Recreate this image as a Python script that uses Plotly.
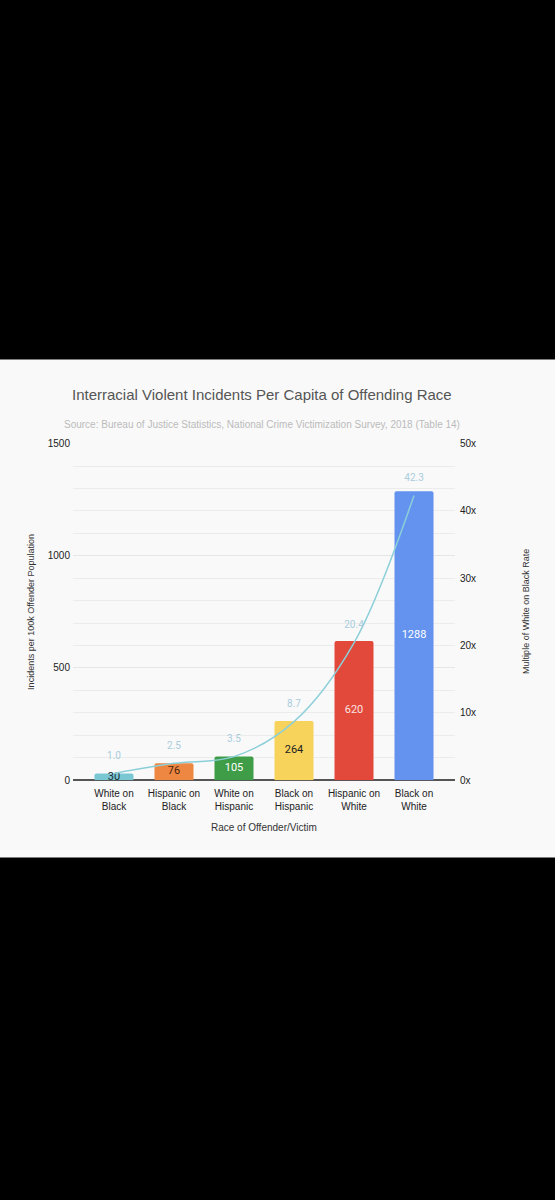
import plotly.graph_objects as go

# Data
categories = ["White on<br>Black", "Hispanic on<br>Black", "White on<br>Hispanic",
              "Black on<br>Hispanic", "Hispanic on<br>White", "Black on<br>White"]
incidents = [30, 76, 105, 264, 620, 1288]
multiples = [1.0, 2.5, 3.5, 8.7, 20.4, 42.3]
multiple_labels = ["1.0", "2.5", "3.5", "8.7", "20.4", "42.3"]
right_ticks = [0, 10, 20, 30, 40, 50]
right_tick_text = ["0x", "10x", "20x", "30x", "40x", "50x"]

bar_colors = ["#79c7d3", "#ee8741", "#3f9d48", "#f7d35c", "#e2493b", "#6393ee"]
bar_text_colors = ["#1d2a33", "#4a2410", "#ffffff", "#222222", "#fbe3e0", "#ffffff"]

W, H = 555, 1200
FONT = "Liberation Sans, Arial, sans-serif"


def px(x):
    return x / W


def py(y):
    return 1 - y / H


def note(text, x, y, size, color, angle=0):
    return dict(text=text, x=px(x), y=py(y), xref="paper", yref="paper",
                xanchor="center", yanchor="middle", showarrow=False,
                textangle=angle, font=dict(size=size, color=color))


bars = go.Bar(
    x=categories,
    y=incidents,
    width=0.65,
    marker=dict(color=bar_colors, line=dict(width=0), cornerradius=2),
    hoverinfo="skip",
    showlegend=False,
)

# bar value labels centred inside each bar
bar_labels = go.Scatter(
    x=categories,
    y=[v / 2 for v in incidents],
    mode="text",
    text=[str(v) for v in incidents],
    textfont=dict(family="Roboto, Arial", size=11, color=bar_text_colors),
    hoverinfo="skip",
    showlegend=False,
)

trend = go.Scatter(
    x=categories,
    y=multiples,
    yaxis="y2",
    mode="lines+markers+text",
    line=dict(color="#8ccfd9", width=1.5, shape="spline", smoothing=1.0),
    marker=dict(size=18, color="rgba(0,0,0,0)"),
    text=multiple_labels,
    textposition="top center",
    textfont=dict(family="Roboto, Arial", size=10, color="#a9cddd"),
    hoverinfo="skip",
    showlegend=False,
)

fig = go.Figure(data=[bars, bar_labels, trend])

fig.update_layout(
    width=W,
    height=H,
    margin=dict(l=0, r=0, t=0, b=0),
    paper_bgcolor="#000000",
    plot_bgcolor="#f9f9f9",
    font=dict(family=FONT, color="#333333"),
    xaxis=dict(
        domain=[px(73), px(455)],
        anchor="y",
        range=[-0.683, 5.683],
        showgrid=False,
        tickfont=dict(size=10, color="#222222"),
        ticks="",
        ticklabelstandoff=6,
    ),
    yaxis=dict(
        domain=[py(782), py(442)],
        range=[0, 1500],
        tickvals=[0, 500, 1000, 1500],
        showgrid=True,
        gridcolor="#e6e6e6",
        gridwidth=1,
        minor=dict(dtick=100, showgrid=True, gridcolor="#ececec"),
        zeroline=True,
        zerolinecolor="#555555",
        zerolinewidth=1.5,
        tickfont=dict(size=10, color="#222222"),
        ticklabelstandoff=2,
    ),
    yaxis2=dict(
        overlaying="y",
        side="right",
        anchor="x",
        range=[0, 50],
        tickvals=right_ticks,
        ticktext=right_tick_text,
        showgrid=False,
        zeroline=False,
        tickfont=dict(size=10, color="#222222"),
        ticklabelstandoff=4,
    ),
    shapes=[
        dict(type="rect", xref="paper", yref="paper",
             x0=0, x1=1, y0=py(860), y1=py(357),
             fillcolor="#f9f9f9", line=dict(width=0), layer="below"),
    ],
    annotations=[
        note("Interracial Violent Incidents Per Capita of Offending Race", 262, 392, 15, "#555555"),
        note("Source: Bureau of Justice Statistics, National Crime Victimization Survey, 2018 (Table 14)",
             262, 423, 10, "#bbbbbb"),
        note("Incidents per 100k Offender Population", 31, 612, 9, "#333333", -90),
        note("Multiple of White on Black Rate", 526, 612, 9, "#333333", -90),
        note("Race of Offender/Victim", 264, 830, 10, "#333333"),
    ],
)

fig.write_html("out.html", config={"displayModeBar": False},
               post_script="document.body.style.margin = '0';")
